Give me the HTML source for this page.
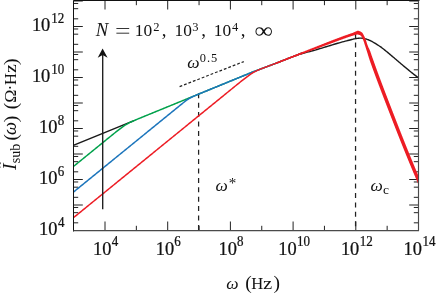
<!DOCTYPE html>
<html><head><meta charset="utf-8"><title>plot</title>
<style>html,body{margin:0;padding:0;background:#fff;}body{width:436px;height:293px;overflow:hidden;}svg{display:block;will-change:transform;}text{font-family:"Liberation Serif",serif;fill:#111;}</style>
</head><body>
<svg width="436" height="293" viewBox="0 0 436 293">
<rect x="0" y="0" width="436" height="293" fill="#fff"/>
<path d="M73.50 222.82h4.7 M418.50 222.82h-4.7 M73.50 212.68h4.7 M418.50 212.68h-4.7 M73.50 207.47h4.7 M418.50 207.47h-4.7 M73.50 205.00h9.3 M418.50 205.00h-9.3 M73.50 197.32h4.7 M418.50 197.32h-4.7 M73.50 187.18h4.7 M418.50 187.18h-4.7 M73.50 181.97h4.7 M418.50 181.97h-4.7 M73.50 179.50h9.3 M418.50 179.50h-9.3 M73.50 171.82h4.7 M418.50 171.82h-4.7 M73.50 161.68h4.7 M418.50 161.68h-4.7 M73.50 156.47h4.7 M418.50 156.47h-4.7 M73.50 154.00h9.3 M418.50 154.00h-9.3 M73.50 146.32h4.7 M418.50 146.32h-4.7 M73.50 136.18h4.7 M418.50 136.18h-4.7 M73.50 130.97h4.7 M418.50 130.97h-4.7 M73.50 128.50h9.3 M418.50 128.50h-9.3 M73.50 120.82h4.7 M418.50 120.82h-4.7 M73.50 110.68h4.7 M418.50 110.68h-4.7 M73.50 105.47h4.7 M418.50 105.47h-4.7 M73.50 103.00h9.3 M418.50 103.00h-9.3 M73.50 95.32h4.7 M418.50 95.32h-4.7 M73.50 85.18h4.7 M418.50 85.18h-4.7 M73.50 79.97h4.7 M418.50 79.97h-4.7 M73.50 77.50h9.3 M418.50 77.50h-9.3 M73.50 69.82h4.7 M418.50 69.82h-4.7 M73.50 59.68h4.7 M418.50 59.68h-4.7 M73.50 54.47h4.7 M418.50 54.47h-4.7 M73.50 52.00h9.3 M418.50 52.00h-9.3 M73.50 44.32h4.7 M418.50 44.32h-4.7 M73.50 34.18h4.7 M418.50 34.18h-4.7 M73.50 28.97h4.7 M418.50 28.97h-4.7 M73.50 26.50h9.3 M418.50 26.50h-9.3 M73.50 18.82h4.7 M418.50 18.82h-4.7 M73.50 8.68h4.7 M418.50 8.68h-4.7 M73.50 3.47h4.7 M418.50 3.47h-4.7 M73.50 1.00h9.3 M418.50 1.00h-9.3 M105.00 230.50v-9.0 M105.00 0.50v9.0 M136.35 230.50v-4.7 M136.35 0.50v4.7 M167.70 230.50v-9.0 M167.70 0.50v9.0 M199.05 230.50v-4.7 M199.05 0.50v4.7 M230.40 230.50v-9.0 M230.40 0.50v9.0 M261.75 230.50v-4.7 M261.75 0.50v4.7 M293.10 230.50v-9.0 M293.10 0.50v9.0 M324.45 230.50v-4.7 M324.45 0.50v4.7 M355.80 230.50v-9.0 M355.80 0.50v9.0 M387.15 230.50v-4.7 M387.15 0.50v4.7" stroke="#222" stroke-width="1" fill="none"/>
<path d="M198.6 93.3V230.5" stroke="#222" stroke-width="1.25" stroke-dasharray="5 4.4" fill="none"/>
<path d="M355.55 33.2V230.5" stroke="#222" stroke-width="1.25" stroke-dasharray="5 4.4" fill="none"/>
<clipPath id="c"><rect x="73.5" y="0.5" width="345.0" height="230.0"/></clipPath>
<g clip-path="url(#c)"><g transform="translate(0,0.75)" fill="none" stroke-linejoin="round">
<path d="M60.00 150.07 L134.00 119.80 M300.00 53.65 L302.15 52.94 L304.03 52.35 L305.70 51.86 L307.22 51.44 L308.62 51.07 L309.98 50.72 L311.35 50.37 L312.77 50.01 L314.30 49.59 L316.00 49.10 L317.87 48.54 L319.84 47.94 L321.89 47.31 L324.00 46.66 L326.12 46.00 L328.24 45.35 L330.32 44.71 L332.32 44.10 L334.23 43.52 L336.00 43.00 L337.68 42.52 L339.31 42.05 L340.89 41.62 L342.41 41.20 L343.87 40.81 L345.26 40.44 L346.57 40.09 L347.80 39.77 L348.95 39.47 L350.00 39.20 L350.94 38.96 L351.75 38.75 L352.45 38.57 L353.08 38.42 L353.63 38.29 L354.14 38.17 L354.62 38.07 L355.10 37.98 L355.58 37.89 L356.10 37.80 L356.63 37.72 L357.15 37.64 L357.64 37.58 L358.13 37.52 L358.60 37.48 L359.06 37.45 L359.51 37.42 L359.95 37.41 L360.38 37.40 L360.80 37.40 L361.20 37.41 L361.57 37.42 L361.91 37.43 L362.24 37.46 L362.57 37.49 L362.90 37.54 L363.25 37.60 L363.63 37.68 L364.04 37.78 L364.50 37.90 L364.99 38.03 L365.49 38.15 L366.00 38.28 L366.53 38.43 L367.09 38.59 L367.69 38.79 L368.32 39.02 L368.99 39.29 L369.72 39.62 L370.50 40.00 L371.35 40.44 L372.27 40.94 L373.25 41.49 L374.27 42.08 L375.33 42.71 L376.41 43.37 L377.50 44.06 L378.59 44.76 L379.66 45.48 L380.70 46.20 L381.73 46.94 L382.76 47.72 L383.79 48.52 L384.82 49.35 L385.85 50.19 L386.88 51.05 L387.91 51.91 L388.94 52.78 L389.97 53.64 L391.00 54.50 L392.02 55.35 L393.04 56.22 L394.06 57.09 L395.08 57.96 L396.10 58.84 L397.12 59.72 L398.14 60.59 L399.16 61.47 L400.18 62.34 L401.20 63.20 L402.24 64.07 L403.31 64.96 L404.39 65.86 L405.47 66.76 L406.55 67.65 L407.61 68.53 L408.65 69.38 L409.65 70.20 L410.60 70.97 L411.50 71.70 L412.34 72.37 L413.12 73.00 L413.86 73.58 L414.56 74.13 L415.24 74.65 L415.89 75.16 L416.54 75.66 L417.18 76.16 L417.84 76.67 L418.50 77.20 L419.20 77.76 L419.94 78.36 L420.69 78.97 L421.45 79.59 L422.19 80.19 L422.89 80.77 L423.54 81.31 L424.12 81.78 L424.62 82.19 L425.00 82.50" stroke="#1a1a1a" stroke-width="1.4"/>
<path d="M60.00 176.68 L61.00 175.87 L62.00 175.05 L63.00 174.24 L64.00 173.43 L65.00 172.61 L66.00 171.80 L67.00 170.99 L68.00 170.17 L69.00 169.36 L70.00 168.55 L71.00 167.73 L72.00 166.92 L73.00 166.11 L74.00 165.29 L75.00 164.48 L76.00 163.67 L77.00 162.85 L78.00 162.04 L79.00 161.23 L80.00 160.41 L81.00 159.60 L82.00 158.79 L83.00 157.97 L84.00 157.16 L85.00 156.35 L86.00 155.53 L87.00 154.72 L88.00 153.91 L89.00 153.09 L90.00 152.28 L91.00 151.47 L92.00 150.65 L93.00 149.84 L94.00 149.03 L95.00 148.21 L96.00 147.40 L97.00 146.59 L98.00 145.77 L99.00 144.96 L100.00 144.15 L101.00 143.33 L102.00 142.52 L103.00 141.71 L104.00 140.89 L105.00 140.08 L106.00 139.27 L107.00 138.45 L108.00 137.64 L109.00 136.83 L110.00 136.02 L111.00 135.21 L112.00 134.40 L113.00 133.59 L114.00 132.78 L115.00 131.97 L116.00 131.17 L117.00 130.38 L118.00 129.59 L119.00 128.81 L120.00 128.04 L121.00 127.28 L122.00 126.54 L123.00 125.83 L124.00 125.14 L125.00 124.49 L126.00 123.87 L127.00 123.28 L128.00 122.72 L129.00 122.20 L130.00 121.70 L131.00 121.22 L132.00 120.76 L133.00 120.31 L134.00 119.87 L135.00 119.44 L136.00 119.02 L137.00 118.60 L138.00 118.18 L139.00 117.77 L140.00 117.35 L141.00 116.94 L142.00 116.53 L143.00 116.12 L144.00 115.71 L145.00 115.30 L146.00 114.89 L147.00 114.48 L148.00 114.07 L149.00 113.66 L150.00 113.25 L151.00 112.84 L152.00 112.44 L153.00 112.03 L154.00 111.62 L155.00 111.21 L156.00 110.80 L157.00 110.39 L158.00 109.98 L159.00 109.57 L160.00 109.16 L161.00 108.75 L162.00 108.34 L163.00 107.94 L164.00 107.53 L165.00 107.12 L166.00 106.71 L167.00 106.30 L168.00 105.89 L169.00 105.48 L170.00 105.07 L171.00 104.66 L172.00 104.25 L173.00 103.84 L174.00 103.44 L175.00 103.03 L176.00 102.62 L177.00 102.21 L178.00 101.80 L179.00 101.39 L180.00 100.98 L181.00 100.57 L182.00 100.16 L183.00 99.75 L184.00 99.34 L185.00 98.94 L186.00 98.53 L187.00 98.12 L188.00 97.71 L189.00 97.30 L190.00 96.89 L191.00 96.48 L192.00 96.07 L193.00 95.66 L194.00 95.25 L195.00 94.84 L196.00 94.44 L197.00 94.03 L198.00 93.62 L199.00 93.21 L200.00 92.80 L201.00 92.39 L202.00 91.98 L203.00 91.57 L204.00 91.16 L205.00 90.75 L206.00 90.34 L207.00 89.94 L208.00 89.53 L209.00 89.12 L210.00 88.71 L211.00 88.30 L212.00 87.89 L213.00 87.48 L214.00 87.07 L215.00 86.66 L216.00 86.25 L217.00 85.84 L218.00 85.44 L219.00 85.03 L220.00 84.62 L221.00 84.21 L222.00 83.80 L223.00 83.39 L224.00 82.98 L225.00 82.57 L226.00 82.16 L227.00 81.75 L228.00 81.34 L229.00 80.93 L230.00 80.53 L231.00 80.12 L232.00 79.71 L233.00 79.30 L234.00 78.89 L235.00 78.48 L236.00 78.07 L237.00 77.66 L238.00 77.25 L239.00 76.84 L240.00 76.43 L241.00 76.03 L242.00 75.62 L243.00 75.21 L244.00 74.80 L245.00 74.39 L246.00 73.98 L247.00 73.57 L248.00 73.16 L249.00 72.75 L250.00 72.34 L251.00 71.93 L252.00 71.53 L253.00 71.12 L254.00 70.70 L255.00 70.33 L256.00 69.95 L257.00 69.58 L258.00 69.20 L259.00 68.83 L260.00 68.45 L261.00 68.08 L262.00 67.70 L263.00 67.33 L264.00 66.95 L265.00 66.58 L266.00 66.20 L267.00 65.83 L268.00 65.46 L269.00 65.08 L270.00 64.71 L271.00 64.33 L272.00 63.96 L273.00 63.58 L274.00 63.21 L275.00 62.83 L276.00 62.46 L277.00 62.08 L278.00 61.71 L279.00 61.33 L280.00 60.96 L281.00 60.56 L282.00 60.17 L283.00 59.77 L284.00 59.38 L285.00 58.98 L286.00 58.58 L287.00 58.19 L288.00 57.79 L289.00 57.40 L290.00 57.00 L291.00 56.62 L292.00 56.24 L293.00 55.85 L294.00 55.47 L295.00 55.09 L296.00 54.71 L297.00 54.33 L298.00 53.95 L299.00 53.56 L300.00 53.18 L301.00 52.80 L302.00 52.42 L303.00 52.04" stroke="#00a14b" stroke-width="1.5"/>
<path d="M60.00 202.28 L61.00 201.47 L62.00 200.65 L63.00 199.84 L64.00 199.03 L65.00 198.21 L66.00 197.40 L67.00 196.59 L68.00 195.77 L69.00 194.96 L70.00 194.15 L71.00 193.33 L72.00 192.52 L73.00 191.71 L74.00 190.89 L75.00 190.08 L76.00 189.27 L77.00 188.45 L78.00 187.64 L79.00 186.83 L80.00 186.01 L81.00 185.20 L82.00 184.39 L83.00 183.57 L84.00 182.76 L85.00 181.95 L86.00 181.13 L87.00 180.32 L88.00 179.51 L89.00 178.69 L90.00 177.88 L91.00 177.07 L92.00 176.25 L93.00 175.44 L94.00 174.63 L95.00 173.81 L96.00 173.00 L97.00 172.19 L98.00 171.37 L99.00 170.56 L100.00 169.74 L101.00 168.93 L102.00 168.12 L103.00 167.30 L104.00 166.49 L105.00 165.68 L106.00 164.86 L107.00 164.05 L108.00 163.24 L109.00 162.42 L110.00 161.61 L111.00 160.80 L112.00 159.98 L113.00 159.17 L114.00 158.36 L115.00 157.54 L116.00 156.73 L117.00 155.92 L118.00 155.10 L119.00 154.29 L120.00 153.48 L121.00 152.66 L122.00 151.85 L123.00 151.04 L124.00 150.22 L125.00 149.41 L126.00 148.60 L127.00 147.78 L128.00 146.97 L129.00 146.16 L130.00 145.34 L131.00 144.53 L132.00 143.72 L133.00 142.90 L134.00 142.09 L135.00 141.28 L136.00 140.46 L137.00 139.65 L138.00 138.84 L139.00 138.02 L140.00 137.21 L141.00 136.40 L142.00 135.58 L143.00 134.77 L144.00 133.96 L145.00 133.14 L146.00 132.33 L147.00 131.52 L148.00 130.70 L149.00 129.89 L150.00 129.07 L151.00 128.26 L152.00 127.45 L153.00 126.63 L154.00 125.82 L155.00 125.01 L156.00 124.19 L157.00 123.38 L158.00 122.57 L159.00 121.75 L160.00 120.94 L161.00 120.13 L162.00 119.31 L163.00 118.50 L164.00 117.69 L165.00 116.87 L166.00 116.06 L167.00 115.25 L168.00 114.43 L169.00 113.62 L170.00 112.81 L171.00 111.99 L172.00 111.18 L173.00 110.37 L174.00 109.55 L175.00 108.74 L176.00 107.93 L177.00 107.11 L178.00 106.30 L179.00 105.49 L180.00 104.68 L181.00 103.87 L182.00 103.07 L183.00 102.27 L184.00 101.48 L185.00 100.70 L186.00 99.94 L187.00 99.21 L188.00 98.52 L189.00 97.88 L190.00 97.29 L191.00 96.74 L192.00 96.24 L193.00 95.77 L194.00 95.32 L195.00 94.88 L196.00 94.46 L197.00 94.04 L198.00 93.63 L199.00 93.21 L200.00 92.80 L201.00 92.39 L202.00 91.98 L203.00 91.57 L204.00 91.16 L205.00 90.75 L206.00 90.34 L207.00 89.94 L208.00 89.53 L209.00 89.12 L210.00 88.71 L211.00 88.30 L212.00 87.89 L213.00 87.48 L214.00 87.07 L215.00 86.66 L216.00 86.25 L217.00 85.84 L218.00 85.44 L219.00 85.03 L220.00 84.62 L221.00 84.21 L222.00 83.80 L223.00 83.39 L224.00 82.98 L225.00 82.57 L226.00 82.16 L227.00 81.75 L228.00 81.34 L229.00 80.93 L230.00 80.53 L231.00 80.12 L232.00 79.71 L233.00 79.30 L234.00 78.89 L235.00 78.48 L236.00 78.07 L237.00 77.66 L238.00 77.25 L239.00 76.84 L240.00 76.43 L241.00 76.03 L242.00 75.62 L243.00 75.21 L244.00 74.80 L245.00 74.39 L246.00 73.98 L247.00 73.57 L248.00 73.16 L249.00 72.75 L250.00 72.34 L251.00 71.93 L252.00 71.53 L253.00 71.12 L254.00 70.70 L255.00 70.33 L256.00 69.95 L257.00 69.58 L258.00 69.20 L259.00 68.83 L260.00 68.45 L261.00 68.08 L262.00 67.70 L263.00 67.33 L264.00 66.95 L265.00 66.58 L266.00 66.20 L267.00 65.83 L268.00 65.46 L269.00 65.08 L270.00 64.71 L271.00 64.33 L272.00 63.96 L273.00 63.58 L274.00 63.21 L275.00 62.83 L276.00 62.46 L277.00 62.08 L278.00 61.71 L279.00 61.33 L280.00 60.96 L281.00 60.56 L282.00 60.17 L283.00 59.77 L284.00 59.38 L285.00 58.98 L286.00 58.58 L287.00 58.19 L288.00 57.79 L289.00 57.40 L290.00 57.00 L291.00 56.62 L292.00 56.24 L293.00 55.85 L294.00 55.47 L295.00 55.09 L296.00 54.71 L297.00 54.33 L298.00 53.95 L299.00 53.56 L300.00 53.18 L301.00 52.80 L302.00 52.42 L303.00 52.04" stroke="#1c75bc" stroke-width="1.5"/>
<path d="M60.00 227.88 L61.00 227.07 L62.00 226.25 L63.00 225.44 L64.00 224.63 L65.00 223.81 L66.00 223.00 L67.00 222.19 L68.00 221.37 L69.00 220.56 L70.00 219.75 L71.00 218.93 L72.00 218.12 L73.00 217.31 L74.00 216.49 L75.00 215.68 L76.00 214.87 L77.00 214.05 L78.00 213.24 L79.00 212.43 L80.00 211.61 L81.00 210.80 L82.00 209.99 L83.00 209.17 L84.00 208.36 L85.00 207.55 L86.00 206.73 L87.00 205.92 L88.00 205.11 L89.00 204.29 L90.00 203.48 L91.00 202.67 L92.00 201.85 L93.00 201.04 L94.00 200.23 L95.00 199.41 L96.00 198.60 L97.00 197.79 L98.00 196.97 L99.00 196.16 L100.00 195.34 L101.00 194.53 L102.00 193.72 L103.00 192.90 L104.00 192.09 L105.00 191.28 L106.00 190.46 L107.00 189.65 L108.00 188.84 L109.00 188.02 L110.00 187.21 L111.00 186.40 L112.00 185.58 L113.00 184.77 L114.00 183.96 L115.00 183.14 L116.00 182.33 L117.00 181.52 L118.00 180.70 L119.00 179.89 L120.00 179.08 L121.00 178.26 L122.00 177.45 L123.00 176.64 L124.00 175.82 L125.00 175.01 L126.00 174.20 L127.00 173.38 L128.00 172.57 L129.00 171.76 L130.00 170.94 L131.00 170.13 L132.00 169.32 L133.00 168.50 L134.00 167.69 L135.00 166.88 L136.00 166.06 L137.00 165.25 L138.00 164.44 L139.00 163.62 L140.00 162.81 L141.00 162.00 L142.00 161.18 L143.00 160.37 L144.00 159.56 L145.00 158.74 L146.00 157.93 L147.00 157.12 L148.00 156.30 L149.00 155.49 L150.00 154.67 L151.00 153.86 L152.00 153.05 L153.00 152.23 L154.00 151.42 L155.00 150.61 L156.00 149.79 L157.00 148.98 L158.00 148.17 L159.00 147.35 L160.00 146.54 L161.00 145.73 L162.00 144.91 L163.00 144.10 L164.00 143.29 L165.00 142.47 L166.00 141.66 L167.00 140.85 L168.00 140.03 L169.00 139.22 L170.00 138.41 L171.00 137.59 L172.00 136.78 L173.00 135.97 L174.00 135.15 L175.00 134.34 L176.00 133.53 L177.00 132.71 L178.00 131.90 L179.00 131.09 L180.00 130.27 L181.00 129.46 L182.00 128.65 L183.00 127.83 L184.00 127.02 L185.00 126.21 L186.00 125.39 L187.00 124.58 L188.00 123.77 L189.00 122.95 L190.00 122.14 L191.00 121.33 L192.00 120.51 L193.00 119.70 L194.00 118.89 L195.00 118.07 L196.00 117.26 L197.00 116.45 L198.00 115.63 L199.00 114.82 L200.00 114.00 L201.00 113.19 L202.00 112.38 L203.00 111.56 L204.00 110.75 L205.00 109.94 L206.00 109.12 L207.00 108.31 L208.00 107.50 L209.00 106.68 L210.00 105.87 L211.00 105.06 L212.00 104.24 L213.00 103.43 L214.00 102.62 L215.00 101.80 L216.00 100.99 L217.00 100.18 L218.00 99.36 L219.00 98.55 L220.00 97.74 L221.00 96.92 L222.00 96.11 L223.00 95.30 L224.00 94.48 L225.00 93.67 L226.00 92.86 L227.00 92.04 L228.00 91.23 L229.00 90.42 L230.00 89.61 L231.00 88.79 L232.00 87.98 L233.00 87.17 L234.00 86.36 L235.00 85.54 L236.00 84.73 L237.00 83.93 L238.00 83.12 L239.00 82.31 L240.00 81.51 L241.00 80.71 L242.00 79.91 L243.00 79.12 L244.00 78.33 L245.00 77.56 L246.00 76.79 L247.00 76.04 L248.00 75.30 L249.00 74.59 L250.00 73.90 L251.00 73.23 L252.00 72.59 L253.00 71.98 L254.00 71.39 L255.00 70.86 L256.00 70.36 L257.00 69.89 L258.00 69.44 L259.00 69.00 L260.00 68.58 L261.00 68.17 L262.00 67.77 L263.00 67.38 L264.00 66.99 L265.00 66.61 L266.00 66.23 L267.00 65.85 L268.00 65.47 L269.00 65.09 L270.00 64.71 L271.00 64.34 L272.00 63.96 L273.00 63.58 L274.00 63.21 L275.00 62.83 L276.00 62.46 L277.00 62.08 L278.00 61.71 L279.00 61.33 L280.00 60.96 L281.00 60.56 L282.00 60.17 L283.00 59.77 L284.00 59.38 L285.00 58.98 L286.00 58.58 L287.00 58.19 L288.00 57.79 L289.00 57.40 L290.00 57.00 L291.00 56.62 L292.00 56.24 L293.00 55.85 L294.00 55.47 L295.00 55.09 L296.00 54.71 L297.00 54.33 L298.00 53.95 L299.00 53.56 L300.00 53.18 L301.00 52.80 L302.00 52.42 L303.00 52.04" stroke="#ed1c24" stroke-width="1.5"/>
<path d="M276.00 61.71 L276.33 61.59 L276.78 61.42 L277.31 61.22 L277.89 61.00 L278.47 60.79 L279.00 60.58 L279.50 60.39 L280.00 60.20 L280.50 60.01 L281.00 59.81 L281.50 59.62 L282.00 59.42 L282.50 59.22 L283.00 59.01 L283.50 58.81 L284.00 58.60 L284.50 58.40 L285.00 58.19 L285.50 57.99 L286.00 57.78 L286.50 57.58 L287.00 57.37 L287.50 57.17 L288.00 56.97 L288.50 56.76 L289.00 56.56 L289.50 56.36 L290.00 56.16 L290.50 55.96 L291.00 55.76 L291.50 55.56 L292.00 55.36 L292.50 55.16 L293.00 54.97 L293.50 54.77 L294.00 54.57 L294.50 54.38 L295.00 54.18 L295.50 53.98 L296.00 53.78 L296.50 53.59 L297.00 53.39 L297.50 53.19 L298.00 53.00 L298.50 52.80 L299.00 52.60 L299.50 52.40 L300.00 52.21 L300.50 52.01 L301.00 51.81 L301.50 51.62 L302.00 51.42 L302.50 51.22 L303.00 51.02 L303.50 50.83 L304.00 50.63 L304.50 50.43 L305.00 50.24 L305.50 50.04 L306.00 49.84 L306.50 49.64 L307.00 49.45 L307.50 49.25 L308.00 49.05 L308.50 48.86 L309.00 48.66 L309.50 48.46 L310.00 48.27 L310.50 48.07 L311.00 47.87 L311.50 47.67 L312.00 47.48 L312.50 47.28 L313.00 47.08 L313.50 46.89 L314.00 46.69 L314.50 46.49 L315.00 46.29 L315.50 46.10 L316.00 45.90 L316.50 45.70 L317.00 45.51 L317.50 45.31 L318.00 45.11 L318.50 44.91 L319.00 44.72 L319.50 44.52 L320.00 44.32 L320.50 44.13 L321.00 43.93 L321.50 43.73 L322.00 43.53 L322.50 43.34 L323.00 43.14 L323.50 42.94 L324.00 42.75 L324.50 42.55 L325.00 42.35 L325.50 42.15 L326.00 41.96 L326.50 41.76 L327.00 41.56 L327.50 41.37 L328.00 41.17 L328.50 40.97 L329.00 40.77 L329.50 40.58 L330.00 40.38 L330.50 40.19 L331.00 39.99 L331.50 39.80 L332.00 39.61 L332.50 39.42 L333.00 39.23 L333.50 39.04 L334.00 38.84 L334.50 38.65 L335.00 38.46 L335.50 38.27 L336.00 38.08 L336.50 37.89 L337.00 37.71 L337.50 37.52 L338.00 37.34 L338.50 37.15 L339.00 36.97 L339.50 36.78 L340.00 36.60 L340.50 36.41 L341.00 36.23 L341.50 36.04 L342.00 35.86 L342.50 35.67 L343.00 35.49 L343.50 35.30 L344.00 35.11 L344.50 34.93 L345.00 34.75 L345.50 34.57 L346.00 34.40 L346.50 34.23 L347.00 34.05 L347.50 33.88 L348.00 33.71 L348.50 33.54 L349.00 33.37 L349.50 33.20 L350.00 33.02 L350.50 32.85 L351.00 32.67 L351.50 32.49 L351.99 32.32 L352.47 32.14 L352.97 31.96 L353.48 31.76 L354.00 31.56 L354.56 31.31 L355.15 31.03 L355.75 30.74 L356.34 30.47 L356.90 30.25 L357.40 30.10 L357.84 30.04 L358.23 30.04 L358.59 30.10 L358.93 30.18 L359.26 30.29 L359.60 30.40 L359.94 30.52 L360.27 30.66 L360.60 30.82 L360.91 31.00 L361.22 31.20 L361.50 31.40 L361.77 31.62 L362.02 31.85 L362.26 32.09 L362.48 32.35 L362.70 32.62 L362.90 32.90 L363.08 33.17 L363.24 33.44 L363.38 33.72 L363.53 34.03 L363.70 34.38 L363.90 34.80 L364.14 35.27 L364.40 35.77 L364.68 36.32 L364.98 36.93 L365.29 37.62 L365.60 38.40 L365.92 39.32 L366.26 40.37 L366.61 41.50 L366.97 42.65 L367.33 43.77 L367.70 44.80 L368.08 45.74 L368.48 46.63 L368.88 47.49 L369.28 48.33 L369.67 49.16 L370.02 50.00 L370.35 50.84 L370.64 51.68 L370.92 52.51 L371.20 53.34 L371.47 54.17 L371.76 55.00 L372.05 55.83 L372.35 56.67 L372.66 57.50 L372.96 58.33 L373.26 59.17 L373.56 60.00 L373.86 60.83 L374.15 61.67 L374.44 62.50 L374.74 63.33 L375.03 64.17 L375.33 65.00 L375.63 65.83 L375.92 66.67 L376.23 67.50 L376.53 68.33 L376.83 69.17 L377.13 70.00 L377.44 70.83 L377.74 71.67 L378.05 72.50 L378.36 73.33 L378.67 74.17 L378.97 75.00 L379.28 75.83 L379.59 76.67 L379.90 77.50 L380.22 78.33 L380.53 79.17 L380.84 80.00 L381.15 80.83 L381.47 81.67 L381.78 82.50 L382.10 83.33 L382.41 84.17 L382.73 85.00 L383.04 85.83 L383.36 86.67 L383.67 87.50 L383.99 88.33 L384.31 89.17 L384.63 90.00 L384.94 90.83 L385.26 91.67 L385.58 92.50 L385.90 93.33 L386.22 94.17 L386.54 95.00 L386.86 95.83 L387.18 96.67 L387.50 97.50 L387.82 98.33 L388.14 99.17 L388.46 100.00 L388.78 100.83 L389.10 101.67 L389.42 102.50 L389.74 103.33 L390.06 104.17 L390.39 105.00 L390.71 105.83 L391.03 106.67 L391.35 107.50 L391.67 108.33 L392.00 109.17 L392.32 110.00 L392.64 110.83 L392.96 111.67 L393.29 112.50 L393.61 113.33 L393.93 114.17 L394.25 115.00 L394.58 115.83 L394.90 116.67 L395.22 117.50 L395.55 118.33 L395.87 119.17 L396.19 120.00 L396.52 120.83 L396.84 121.67 L397.17 122.50 L397.49 123.33 L397.81 124.17 L398.14 125.00 L398.46 125.83 L398.79 126.67 L399.11 127.50 L399.44 128.33 L399.76 129.17 L400.09 130.00 L400.42 130.83 L400.74 131.67 L401.07 132.50 L401.40 133.33 L401.73 134.17 L402.06 135.00 L402.39 135.83 L402.72 136.67 L403.05 137.50 L403.38 138.33 L403.71 139.17 L404.04 140.00 L404.38 140.83 L404.71 141.67 L405.04 142.50 L405.38 143.33 L405.71 144.17 L406.05 145.00 L406.38 145.83 L406.72 146.67 L407.06 147.50 L407.39 148.33 L407.73 149.17 L408.07 150.00 L408.41 150.83 L408.75 151.67 L409.08 152.50 L409.42 153.33 L409.76 154.17 L410.10 155.00 L410.45 155.83 L410.79 156.67 L411.13 157.50 L411.47 158.33 L411.81 159.17 L412.16 160.00 L412.50 160.83 L412.85 161.67 L413.19 162.50 L413.53 163.33 L413.88 164.17 L414.23 165.00 L414.57 165.83 L414.92 166.67 L415.27 167.50 L415.61 168.33 L415.96 169.17 L416.31 170.00 L416.66 170.83 L417.01 171.67 L417.36 172.50 L417.71 173.33 L418.06 174.17 L418.41 175.00 L418.77 175.83 L419.12 176.67 L419.47 177.50 L419.82 178.33 L420.18 179.17 L420.53 180.00 L420.89 180.83 L421.24 181.67 L421.60 182.50 L421.95 183.33 L422.31 184.17 L422.66 185.00 L423.02 185.83 L423.38 186.67 L423.74 187.50 L424.10 188.33 L424.46 189.17 L424.81 190.00 L425.20 190.89 L425.62 191.85 L426.03 192.81 L426.42 193.70 L426.74 194.46 L426.98 195.00 L423.28 195.00 L423.04 194.46 L422.72 193.70 L422.33 192.81 L421.92 191.85 L421.50 190.89 L421.11 190.00 L420.76 189.17 L420.40 188.33 L420.04 187.50 L419.68 186.67 L419.32 185.83 L418.96 185.00 L418.61 184.17 L418.25 183.33 L417.90 182.50 L417.54 181.67 L417.19 180.83 L416.83 180.00 L416.48 179.17 L416.12 178.33 L415.77 177.50 L415.42 176.67 L415.07 175.83 L414.71 175.00 L414.36 174.17 L414.01 173.33 L413.66 172.50 L413.31 171.67 L412.96 170.83 L412.61 170.00 L412.26 169.17 L411.91 168.33 L411.57 167.50 L411.22 166.67 L410.87 165.83 L410.53 165.00 L410.18 164.17 L409.83 163.33 L409.49 162.50 L409.15 161.67 L408.80 160.83 L408.46 160.00 L408.11 159.17 L407.77 158.33 L407.43 157.50 L407.09 156.67 L406.75 155.83 L406.40 155.00 L406.06 154.17 L405.72 153.33 L405.38 152.50 L405.05 151.67 L404.71 150.83 L404.37 150.00 L404.03 149.17 L403.69 148.33 L403.36 147.50 L403.02 146.67 L402.68 145.83 L402.35 145.00 L402.01 144.17 L401.68 143.33 L401.34 142.50 L401.01 141.67 L400.68 140.83 L400.34 140.00 L400.01 139.17 L399.68 138.33 L399.35 137.50 L399.02 136.67 L398.69 135.83 L398.36 135.00 L398.03 134.17 L397.70 133.33 L397.37 132.50 L397.04 131.67 L396.72 130.83 L396.39 130.00 L396.06 129.17 L395.74 128.33 L395.41 127.50 L395.09 126.67 L394.76 125.83 L394.44 125.00 L394.11 124.17 L393.79 123.33 L393.47 122.50 L393.14 121.67 L392.82 120.83 L392.49 120.00 L392.17 119.17 L391.85 118.33 L391.52 117.50 L391.20 116.67 L390.88 115.83 L390.55 115.00 L390.23 114.17 L389.91 113.33 L389.59 112.50 L389.26 111.67 L388.94 110.83 L388.62 110.00 L388.30 109.17 L387.97 108.33 L387.65 107.50 L387.33 106.67 L387.01 105.83 L386.69 105.00 L386.36 104.17 L386.04 103.33 L385.72 102.50 L385.40 101.67 L385.08 100.83 L384.76 100.00 L384.44 99.17 L384.12 98.33 L383.80 97.50 L383.48 96.67 L383.16 95.83 L382.84 95.00 L382.52 94.17 L382.20 93.33 L381.88 92.50 L381.56 91.67 L381.24 90.83 L380.93 90.00 L380.61 89.17 L380.29 88.33 L379.97 87.50 L379.66 86.67 L379.34 85.83 L379.03 85.00 L378.71 84.17 L378.40 83.33 L378.08 82.50 L377.77 81.67 L377.45 80.83 L377.14 80.00 L376.83 79.17 L376.52 78.33 L376.20 77.50 L375.89 76.67 L375.58 75.83 L375.27 75.00 L374.97 74.17 L374.66 73.33 L374.35 72.50 L374.04 71.67 L373.74 70.83 L373.43 70.00 L373.13 69.17 L372.83 68.33 L372.53 67.50 L372.22 66.67 L371.93 65.83 L371.63 65.00 L371.33 64.17 L371.03 63.33 L370.73 62.50 L370.44 61.67 L370.15 60.83 L369.86 60.00 L369.58 59.17 L369.31 58.33 L369.04 57.50 L368.78 56.67 L368.51 55.83 L368.25 55.00 L367.99 54.17 L367.74 53.34 L367.49 52.51 L367.24 51.68 L366.98 50.84 L366.71 50.00 L366.43 49.14 L366.14 48.25 L365.85 47.36 L365.55 46.48 L365.27 45.62 L365.00 44.80 L364.75 44.01 L364.51 43.23 L364.28 42.48 L364.06 41.75 L363.83 41.05 L363.60 40.40 L363.36 39.78 L363.11 39.19 L362.87 38.63 L362.63 38.10 L362.40 37.63 L362.20 37.20 L362.02 36.83 L361.87 36.53 L361.74 36.27 L361.60 36.04 L361.46 35.82 L361.30 35.60 L361.13 35.38 L360.98 35.18 L360.81 34.99 L360.62 34.82 L360.39 34.65 L360.10 34.50 L359.74 34.34 L359.34 34.18 L358.89 34.03 L358.41 33.91 L357.91 33.82 L357.40 33.80 L356.87 33.85 L356.30 33.95 L355.72 34.10 L355.13 34.28 L354.55 34.45 L354.00 34.61 L353.48 34.75 L352.97 34.90 L352.47 35.05 L351.99 35.20 L351.50 35.36 L351.00 35.51 L350.50 35.68 L350.00 35.85 L349.50 36.02 L349.00 36.19 L348.50 36.36 L348.00 36.53 L347.50 36.70 L347.00 36.87 L346.50 37.04 L346.00 37.21 L345.50 37.38 L345.00 37.55 L344.50 37.73 L344.00 37.91 L343.50 38.09 L343.00 38.28 L342.50 38.46 L342.00 38.64 L341.50 38.82 L341.00 39.00 L340.50 39.19 L340.00 39.37 L339.50 39.55 L339.00 39.73 L338.50 39.91 L338.00 40.09 L337.50 40.27 L337.00 40.45 L336.50 40.64 L336.00 40.82 L335.50 41.01 L335.00 41.19 L334.50 41.38 L334.00 41.57 L333.50 41.76 L333.00 41.95 L332.50 42.14 L332.00 42.33 L331.50 42.52 L331.00 42.71 L330.50 42.89 L330.00 43.08 L329.50 43.27 L329.00 43.45 L328.50 43.64 L328.00 43.82 L327.50 44.00 L327.00 44.19 L326.50 44.37 L326.00 44.56 L325.50 44.74 L325.00 44.93 L324.50 45.11 L324.00 45.30 L323.50 45.48 L323.00 45.66 L322.50 45.85 L322.00 46.03 L321.50 46.22 L321.00 46.40 L320.50 46.59 L320.00 46.77 L319.50 46.96 L319.00 47.14 L318.50 47.33 L318.00 47.51 L317.50 47.70 L317.00 47.88 L316.50 48.06 L316.00 48.25 L315.50 48.43 L315.00 48.62 L314.50 48.80 L314.00 48.99 L313.50 49.17 L313.00 49.36 L312.50 49.54 L312.00 49.73 L311.50 49.91 L311.00 50.10 L310.50 50.28 L310.00 50.46 L309.50 50.65 L309.00 50.83 L308.50 51.02 L308.00 51.20 L307.50 51.39 L307.00 51.57 L306.50 51.76 L306.00 51.94 L305.50 52.13 L305.00 52.31 L304.50 52.50 L304.00 52.68 L303.50 52.87 L303.00 53.05 L302.50 53.23 L302.00 53.42 L301.50 53.60 L301.00 53.79 L300.50 53.97 L300.00 54.16 L299.50 54.34 L299.00 54.53 L298.50 54.71 L298.00 54.90 L297.50 55.08 L297.00 55.27 L296.50 55.45 L296.00 55.63 L295.50 55.82 L295.00 56.00 L294.50 56.19 L294.00 56.37 L293.50 56.56 L293.00 56.74 L292.50 56.93 L292.00 57.11 L291.50 57.29 L291.00 57.48 L290.50 57.67 L290.00 57.86 L289.50 58.05 L289.00 58.24 L288.50 58.43 L288.00 58.62 L287.50 58.81 L287.00 59.00 L286.50 59.19 L286.00 59.38 L285.50 59.58 L285.00 59.77 L284.50 59.96 L284.00 60.15 L283.50 60.34 L283.00 60.53 L282.50 60.73 L282.00 60.92 L281.50 61.11 L281.00 61.31 L280.50 61.50 L280.00 61.70 L279.50 61.89 L279.00 62.08 L278.47 62.29 L277.89 62.50 L277.31 62.72 L276.78 62.92 L276.33 63.09 L276.00 63.21Z" fill="#ed1c24" stroke="none"/>
</g></g>
<path d="M179.6 86.6L243.8 61.6" stroke="#222" stroke-width="1.2" stroke-dasharray="2.8 1.95" fill="none"/>
<path d="M102.7 209.3V54" stroke="#1c1c1c" stroke-width="1.35" fill="none"/>
<path d="M102.6 48.6L107.6 57.8L102.6 54.9L97.7 57.8Z" fill="#111"/>
<path d="M73.5 231.0V0.5H419.0" fill="none" stroke="#111" stroke-width="1" stroke-linecap="square"/>
<path d="M73.5 230.55H418.5V0.5" fill="none" stroke="#4a4a4a" stroke-width="1.15"/>
<text transform="translate(31.88,31.20) scale(0.93,1)" font-size="19.8" stroke="#111" stroke-width="0.25">10</text>
<text transform="translate(51.26,22.50) scale(0.93,1)" font-size="14" stroke="#111" stroke-width="0.25">12</text>
<text transform="translate(31.88,82.20) scale(0.93,1)" font-size="19.8" stroke="#111" stroke-width="0.25">10</text>
<text transform="translate(51.26,73.50) scale(0.93,1)" font-size="14" stroke="#111" stroke-width="0.25">10</text>
<text transform="translate(38.98,133.20) scale(0.93,1)" font-size="19.8" stroke="#111" stroke-width="0.25">10</text>
<text transform="translate(57.80,124.50) scale(0.93,1)" font-size="14" stroke="#111" stroke-width="0.25">8</text>
<text transform="translate(38.98,184.20) scale(0.93,1)" font-size="19.8" stroke="#111" stroke-width="0.25">10</text>
<text transform="translate(57.74,175.50) scale(0.93,1)" font-size="14" stroke="#111" stroke-width="0.25">6</text>
<text transform="translate(38.98,235.20) scale(0.93,1)" font-size="19.8" stroke="#111" stroke-width="0.25">10</text>
<text transform="translate(58.05,226.50) scale(0.93,1)" font-size="14" stroke="#111" stroke-width="0.25">4</text>
<text transform="translate(93.08,255.40) scale(0.93,1)" font-size="19.8" stroke="#111" stroke-width="0.25">10</text>
<text transform="translate(111.75,246.00) scale(0.93,1)" font-size="14" stroke="#111" stroke-width="0.25">4</text>
<text transform="translate(155.78,255.40) scale(0.93,1)" font-size="19.8" stroke="#111" stroke-width="0.25">10</text>
<text transform="translate(174.14,246.00) scale(0.93,1)" font-size="14" stroke="#111" stroke-width="0.25">6</text>
<text transform="translate(218.48,255.40) scale(0.93,1)" font-size="19.8" stroke="#111" stroke-width="0.25">10</text>
<text transform="translate(236.90,246.00) scale(0.93,1)" font-size="14" stroke="#111" stroke-width="0.25">8</text>
<text transform="translate(278.18,255.40) scale(0.93,1)" font-size="19.8" stroke="#111" stroke-width="0.25">10</text>
<text transform="translate(297.06,246.00) scale(0.93,1)" font-size="14" stroke="#111" stroke-width="0.25">10</text>
<text transform="translate(340.88,255.40) scale(0.93,1)" font-size="19.8" stroke="#111" stroke-width="0.25">10</text>
<text transform="translate(359.76,246.00) scale(0.93,1)" font-size="14" stroke="#111" stroke-width="0.25">12</text>
<text transform="translate(403.58,255.40) scale(0.93,1)" font-size="19.8" stroke="#111" stroke-width="0.25">10</text>
<text transform="translate(422.46,246.00) scale(0.93,1)" font-size="14" stroke="#111" stroke-width="0.25">14</text>
<text x="95.64" y="35.60" font-size="18.8" font-style="italic">N</text>
<path d="M116.4 28.5H129.2M116.4 33.2H129.2" stroke="#111" stroke-width="0.85" fill="none"/>
<text x="134.87" y="35.60" font-size="17.4">10</text>
<text x="153.25" y="30.70" font-size="12.5">2</text>
<text x="161.78" y="36.20" font-size="18.9">,</text>
<text x="174.57" y="35.60" font-size="17.4">10</text>
<text x="192.20" y="30.70" font-size="12.5">3</text>
<text x="201.28" y="36.20" font-size="18.9">,</text>
<text x="213.87" y="35.60" font-size="17.4">10</text>
<text x="232.06" y="30.70" font-size="12.5">4</text>
<text x="240.68" y="36.20" font-size="18.9">,</text>
<text transform="translate(254.43,38.00) scale(1.15,1)" font-size="22.5" fill="#2a2a2a">∞</text>
<text x="187.32" y="67.90" font-size="17.4" font-style="italic">ω</text>
<text x="199.63" y="62.20" font-size="12.4" letter-spacing="1.1">0.5</text>
<text x="215.42" y="191.40" font-size="17.4" font-style="italic">ω</text>
<text x="228.77" y="188.40" font-size="15">*</text>
<text x="370.42" y="190.90" font-size="17.4" font-style="italic">ω</text>
<text x="382.89" y="194.10" font-size="13.5">c</text>
<text x="226.32" y="288.60" font-size="17.4" font-style="italic">ω</text>
<text x="245.14" y="289.00" font-size="19.5">(</text>
<text x="251.22" y="288.60" font-size="16.6">H</text>
<text transform="translate(263.04,288.60) scale(1.25,1)" font-size="16.6">z</text>
<text x="273.57" y="289.00" font-size="19.5">)</text>
<g transform="translate(16.4,172) rotate(-90)">
<text transform="translate(1.88,0.00) scale(1.1,1)" font-size="18.0" font-style="italic">I</text>
<text x="4.27" y="-12.30" font-size="12">~</text>
<text x="8.73" y="3.20" font-size="14.0">sub</text>
<text x="31.44" y="0.40" font-size="19.5">(</text>
<text x="37.09" y="0.00" font-size="18.4" font-style="italic">ω</text>
<text x="49.77" y="0.40" font-size="19.5">)</text>
<text x="62.84" y="0.40" font-size="19.5">(</text>
<text x="69.28" y="0.00" font-size="17.7">Ω</text>
<text x="81.43" y="0.00" font-size="17.4">·</text>
<text x="87.02" y="0.00" font-size="16.6">H</text>
<text transform="translate(98.97,0.00) scale(1.2,1)" font-size="16.6">z</text>
<text x="106.97" y="0.40" font-size="19.5">)</text>
</g>
</svg></body></html>
